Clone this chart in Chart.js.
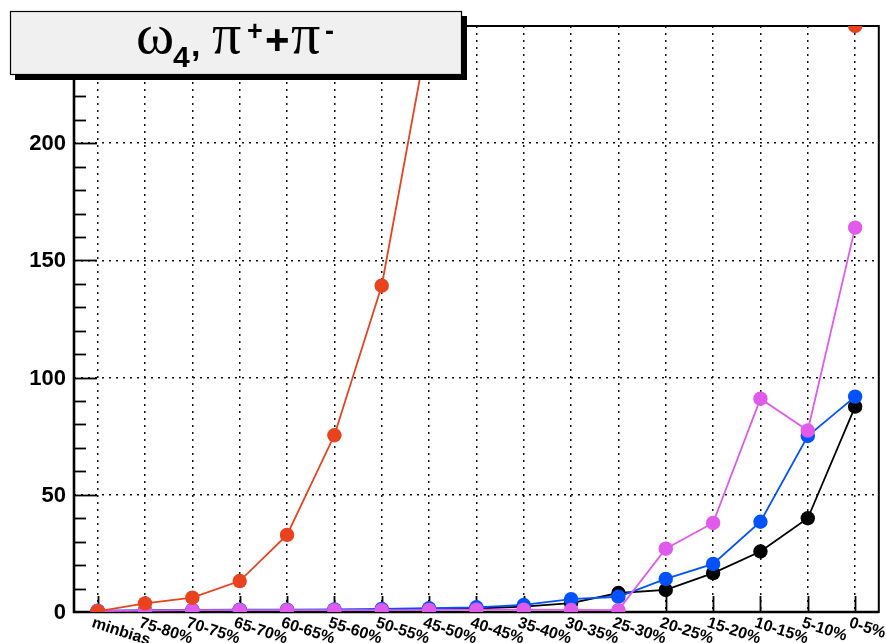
<!DOCTYPE html>
<html>
<head>
<meta charset="utf-8">
<script src="https://cdn.jsdelivr.net/npm/chart.js@4"></script>
<style>
  html, body { margin: 0; padding: 0; background: #ffffff; }
  #wrap { width: 886px; height: 643px; position: relative; }
</style>
</head>
<body>
<div id="wrap"><canvas id="c" width="886" height="643"></canvas></div>
<script>
// Centrality classes along the x axis
const categories = ['minbias', '75-80%', '70-75%', '65-70%', '60-65%', '55-60%', '50-55%', '45-50%',
  '40-45%', '35-40%', '30-35%', '25-30%', '20-25%', '15-20%', '10-15%', '5-10%', '0-5%'];

// Series values per centrality class
const seriesRed     = [0.3, 3.7, 6.1, 13.2, 32.9, 75.4, 139.2, 249, 420, 650, 950, 1300, 1700, 2150, 2650, 3200, 250];
const seriesMagenta = [0.4, 0.6, 0.8, 0.8, 0.8, 0.8, 0.8, 0.9, 1.0, 1.0, 0.9, 0.8, 27, 38, 91, 77.4, 164];
const seriesBlue    = [0.6, 0.8, 0.9, 1.0, 1.0, 1.1, 1.3, 1.6, 2.0, 3.0, 5.5, 6.5, 14.1, 20.5, 38.5, 75.1, 91.9];
const seriesBlack   = [0.3, 0.5, 0.6, 0.7, 0.7, 0.8, 0.9, 1.1, 1.5, 2.3, 3.8, 8.1, 9.4, 16.6, 25.8, 40, 87.6];

// Y axis range and labels
const yMin = 0;
const yMax = 250;
const yLabelValues = [0, 50, 100, 150, 200];
const yMinorStep = 10;

const COLORS = {
  red: 'rgb(232,66,30)',
  magenta: 'rgb(224,90,236)',
  blue: 'rgb(0,82,255)',
  black: '#000000'
};

function lineSet(label, data, color) {
  return {
    label, data,
    borderColor: color,
    backgroundColor: color,
    pointBackgroundColor: color,
    pointBorderColor: color,
    pointBorderWidth: 0,
    pointRadius: 7.2,
    borderWidth: 1.8,
    tension: 0
  };
}

// Frame, axis ticks and labels, title box
const decorations = {
  id: 'decorations',
  beforeDatasetsDraw(chart) {
    const { ctx, chartArea: a, scales } = chart;
    const y = scales.y, x = scales.x;
    ctx.save();
    ctx.strokeStyle = '#000';
    // frame
    ctx.lineWidth = 2;
    ctx.strokeRect(a.left, a.top, a.right - a.left, a.bottom - a.top);
    ctx.lineWidth = 2.6;
    ctx.beginPath();
    ctx.moveTo(a.left, a.top); ctx.lineTo(a.left, a.bottom); ctx.lineTo(a.right, a.bottom);
    ctx.stroke();
    // y ticks (inside)
    ctx.lineWidth = 1.8;
    for (let v = yMin + yMinorStep; v < yMax; v += yMinorStep) {
      const py = Math.round(y.getPixelForValue(v)) + 0.5;
      const len = (v % 50 === 0) ? 23 : 12;
      ctx.beginPath();
      ctx.moveTo(a.left, py); ctx.lineTo(a.left + len, py);
      ctx.stroke();
    }
    // x ticks (inside)
    categories.forEach((c, i) => {
      const px = Math.round(x.getPixelForValue(i)) + 0.5;
      ctx.beginPath();
      ctx.moveTo(px, a.bottom); ctx.lineTo(px, a.bottom - 16);
      ctx.stroke();
    });
    ctx.restore();
  },
  afterDraw(chart) {
    const { ctx, chartArea: a, scales } = chart;
    const y = scales.y, x = scales.x;
    ctx.save();
    // y labels
    ctx.fillStyle = '#000';
    ctx.font = 'bold 22px "Liberation Sans", Arial, sans-serif';
    ctx.textAlign = 'right';
    ctx.textBaseline = 'middle';
    yLabelValues.forEach(v => ctx.fillText(String(v), 66, y.getPixelForValue(v) + 1));
    // x labels, slanted downward
    ctx.font = 'bold 16px "Liberation Sans", Arial, sans-serif';
    ctx.textAlign = 'left';
    ctx.textBaseline = 'top';
    categories.forEach((c, i) => {
      const px = x.getPixelForValue(i);
      ctx.save();
      ctx.translate(px - 3, a.bottom + 3);
      ctx.rotate(0.31);
      ctx.fillText(c, 0, 0);
      ctx.restore();
    });
    // title box with shadow
    const bx = 10, by = 11, bw = 452, bh = 64;
    ctx.fillStyle = '#000';
    ctx.fillRect(bx + 5, by + 5, bw, bh);
    ctx.fillStyle = '#f0f0f0';
    ctx.fillRect(bx, by, bw, bh);
    ctx.lineWidth = 1.2;
    ctx.strokeStyle = '#000';
    ctx.strokeRect(bx + 0.5, by + 0.5, bw - 1, bh - 1);
    // title text
    ctx.fillStyle = '#000';
    ctx.textAlign = 'left';
    ctx.textBaseline = 'alphabetic';
    const serif = '"Liberation Serif", "Times New Roman", serif';
    const sans = '"Liberation Sans", Arial, sans-serif';
    ctx.font = '58px ' + serif;
    ctx.fillText('\u03c9', 136, 53);
    ctx.font = 'bold 30px ' + sans;
    ctx.fillText('4', 173, 67);
    ctx.font = 'bold 34px ' + sans;
    ctx.fillText(',', 191, 56);
    ctx.font = '58px ' + serif;
    ctx.fillText('\u03c0', 212, 53);
    ctx.font = 'bold 27px ' + sans;
    ctx.fillText('+', 247, 40);
    ctx.font = 'bold 42px ' + sans;
    ctx.fillText('+', 265, 54);
    ctx.font = '58px ' + serif;
    ctx.fillText('\u03c0', 291, 53);
    ctx.font = 'bold 27px ' + sans;
    ctx.fillText('-', 325, 40);
    ctx.restore();
  }
};

new Chart(document.getElementById('c'), {
  type: 'line',
  data: {
    labels: categories,
    datasets: [
      lineSet('\u03c0\u207a+\u03c0\u207b', seriesRed, COLORS.red),
      lineSet('magenta', seriesMagenta, COLORS.magenta),
      lineSet('blue', seriesBlue, COLORS.blue),
      lineSet('black', seriesBlack, COLORS.black)
    ]
  },
  options: {
    responsive: false,
    devicePixelRatio: 1,
    animation: false,
    events: [],
    layout: { padding: { left: 0, top: 26, right: 7, bottom: 0 } },
    plugins: { legend: { display: false }, title: { display: false }, tooltip: { enabled: false } },
    scales: {
      x: {
        type: 'category',
        offset: true,
        ticks: { display: false },
        grid: { offset: false, drawTicks: false, color: '#111', lineWidth: 1.5 },
        border: { display: false, dash: [2, 5] },
        afterFit(s) { s.height = 31; }
      },
      y: {
        min: yMin,
        max: yMax,
        ticks: { display: false, stepSize: 50 },
        grid: { drawTicks: false, color: '#111', lineWidth: 1.5 },
        border: { display: false, dash: [2, 5] },
        afterFit(s) { s.width = 74; }
      }
    }
  },
  plugins: [decorations]
});
</script>
</body>
</html>
